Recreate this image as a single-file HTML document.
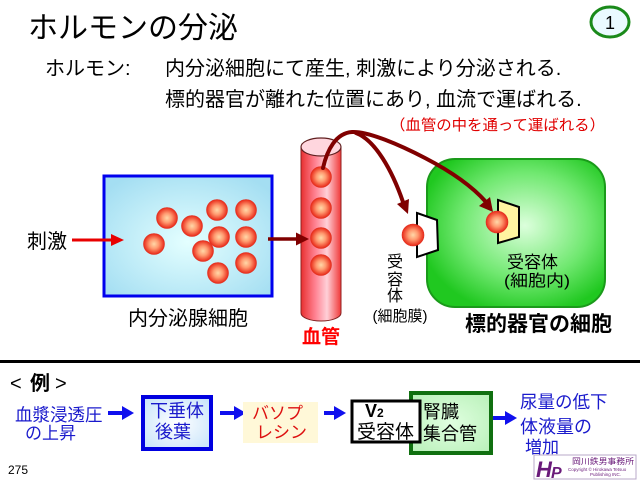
<!DOCTYPE html>
<html><head><meta charset="utf-8">
<style>
html,body{margin:0;padding:0;background:#fff;}
svg{display:block;}
text{font-family:"Liberation Sans","Noto Sans CJK JP",sans-serif;}
</style></head>
<body>
<svg width="640" height="480" viewBox="0 0 640 480" xmlns="http://www.w3.org/2000/svg">
<defs>
  <radialGradient id="ball" cx="50%" cy="50%" r="50%">
    <stop offset="0" stop-color="#ffd8a8"/>
    <stop offset="0.45" stop-color="#ff9a70"/>
    <stop offset="1" stop-color="#e82818"/>
  </radialGradient>
  <radialGradient id="cyan" cx="50%" cy="55%" r="65%">
    <stop offset="0" stop-color="#e4ffff"/>
    <stop offset="1" stop-color="#a4def2"/>
  </radialGradient>
  <radialGradient id="green" cx="55%" cy="45%" r="60%">
    <stop offset="0" stop-color="#dcffdc"/>
    <stop offset="0.6" stop-color="#70e870"/>
    <stop offset="1" stop-color="#20c820"/>
  </radialGradient>
  <linearGradient id="vessel" x1="0" y1="0" x2="1" y2="0">
    <stop offset="0" stop-color="#e83030"/>
    <stop offset="0.35" stop-color="#ff8090"/>
    <stop offset="0.65" stop-color="#ffd0d8"/>
    <stop offset="1" stop-color="#f03838"/>
  </linearGradient>
  <radialGradient id="lblue" cx="50%" cy="50%" r="70%">
    <stop offset="0" stop-color="#ffffff"/>
    <stop offset="1" stop-color="#c4e2fa"/>
  </radialGradient>
  <radialGradient id="lgreen" cx="50%" cy="50%" r="70%">
    <stop offset="0" stop-color="#e0ffe0"/>
    <stop offset="1" stop-color="#b8f0b8"/>
  </radialGradient>
</defs>

<!-- Title -->
<text x="28" y="38" font-size="30" fill="#000">ホルモンの分泌</text>
<ellipse cx="610" cy="22" rx="19" ry="15" fill="#eafaff" stroke="#1a8a1a" stroke-width="3"/>
<text x="610" y="29" font-size="18" text-anchor="middle" fill="#000">1</text>

<text x="45" y="75" font-size="20" fill="#000">ホルモン:</text>
<text x="165" y="75" font-size="20" fill="#000">内分泌細胞にて産生, 刺激により分泌される.</text>
<text x="165" y="106" font-size="20" fill="#000">標的器官が離れた位置にあり, 血流で運ばれる.</text>
<text x="390" y="130" font-size="15" fill="#e00000" textLength="215" lengthAdjust="spacingAndGlyphs">（血管の中を通って運ばれる）</text>

<!-- endocrine cell box -->
<rect x="104" y="176" width="168" height="120" fill="url(#cyan)" stroke="#0000ee" stroke-width="3"/>

<!-- stimulus -->
<text x="27" y="248" font-size="20" fill="#000">刺激</text>
<line x1="72" y1="240" x2="114" y2="240" stroke="#e80000" stroke-width="3"/>
<polygon points="124,240 111,234 111,246" fill="#e80000"/>

<g fill="url(#ball)" stroke="#e03020" stroke-width="0.6">
  <circle cx="167" cy="218" r="10.5"/>
  <circle cx="192" cy="226" r="10.5"/>
  <circle cx="217" cy="210" r="10.5"/>
  <circle cx="246" cy="210" r="10.5"/>
  <circle cx="154" cy="244" r="10.5"/>
  <circle cx="219" cy="237" r="10.5"/>
  <circle cx="246" cy="237" r="10.5"/>
  <circle cx="203" cy="251" r="10.5"/>
  <circle cx="246" cy="263" r="10.5"/>
  <circle cx="218" cy="273" r="10.5"/>
</g>
<text x="188" y="325" font-size="20" text-anchor="middle" fill="#000">内分泌腺細胞</text>

<!-- arrow to vessel -->
<line x1="268" y1="239" x2="298" y2="239" stroke="#800000" stroke-width="3.5"/>

<!-- vessel -->
<ellipse cx="321" cy="313" rx="20" ry="8" fill="url(#vessel)" stroke="#802020" stroke-width="1"/>
<rect x="301" y="147" width="40" height="166" fill="url(#vessel)"/>
<line x1="301" y1="147" x2="301" y2="313" stroke="#902020" stroke-width="1"/>
<line x1="341" y1="147" x2="341" y2="313" stroke="#902020" stroke-width="1"/>
<ellipse cx="321" cy="147" rx="20" ry="9" fill="#ffd6de" stroke="#602020" stroke-width="1.2"/>
<polygon points="309,239 296,232.5 296,245.5" fill="#800000"/>
<g fill="url(#ball)" stroke="#e03020" stroke-width="0.6">
  <circle cx="321" cy="177" r="10.5"/>
  <circle cx="321" cy="208" r="10.5"/>
  <circle cx="321" cy="238" r="10.5"/>
  <circle cx="321" cy="265" r="10.5"/>
</g>
<text x="321" y="343" font-size="19" font-weight="bold" text-anchor="middle" fill="#ff0000">血管</text>

<!-- green target cell -->
<rect x="427" y="159" width="178" height="148" rx="28" ry="28" fill="url(#green)" stroke="#1a9a1a" stroke-width="2"/>

<!-- curved arrows -->
<path d="M323,168 C327,150 336,133 352,132 C368,131 400,145 425,158 C452,172 472,186 486,202" fill="none" stroke="#800000" stroke-width="4" stroke-linecap="round"/>
<path d="M356,133 C375,140 392,170 403,202" fill="none" stroke="#800000" stroke-width="4" stroke-linecap="round"/>
<polygon points="408,214 409,199 397,204" fill="#800000"/>
<polygon points="493,212 490,197 479,206" fill="#800000"/>

<!-- receptors -->
<polygon points="417,213 437,220 438,250 417,257" fill="#ffffff" stroke="#000" stroke-width="2"/>
<circle cx="413" cy="235" r="11" fill="url(#ball)" stroke="#e03020" stroke-width="0.6"/>
<polygon points="498,200 519,207 519,237 498,243" fill="#fff4a0" stroke="#000" stroke-width="2"/>
<circle cx="497" cy="222" r="11" fill="url(#ball)" stroke="#e03020" stroke-width="0.6"/>

<g font-size="16" fill="#000" text-anchor="middle">
  <text x="395" y="267">受</text>
  <text x="395" y="285">容</text>
  <text x="395" y="301">体</text>
</g>
<text x="400" y="321" font-size="15" text-anchor="middle" fill="#000">(細胞膜)</text>
<text x="507" y="268" font-size="17" fill="#000">受容体</text>
<text x="504" y="286" font-size="16" fill="#000" textLength="66" lengthAdjust="spacingAndGlyphs">(細胞内)</text>
<text x="465" y="331" font-size="21" font-weight="bold" fill="#000">標的器官の細胞</text>

<!-- separator -->
<rect x="0" y="360" width="640" height="3" fill="#000"/>

<!-- example -->
<text x="10" y="390" font-size="20" fill="#000">&lt;</text>
<text x="30" y="390" font-size="20" font-weight="bold" fill="#000">例</text>
<text x="55" y="390" font-size="20" fill="#000">&gt;</text>

<text x="15" y="421" font-size="17.5" fill="#1a1acc">血漿浸透圧</text>
<text x="25" y="439" font-size="17" fill="#1a1acc">の上昇</text>

<line x1="108" y1="413" x2="124" y2="413" stroke="#1010ee" stroke-width="4"/>
<polygon points="134,413 122,406 122,420" fill="#1010ee"/>

<rect x="143" y="397" width="68" height="52" fill="url(#lblue)" stroke="#0000e0" stroke-width="4"/>
<text x="150" y="417" font-size="18" fill="#1a1acc">下垂体</text>
<text x="155" y="438" font-size="18" fill="#1a1acc">後葉</text>

<line x1="220" y1="413" x2="236" y2="413" stroke="#1010ee" stroke-width="4"/>
<polygon points="246,413 234,406 234,420" fill="#1010ee"/>

<rect x="243" y="402" width="75" height="41" fill="#fff8d8"/>
<text x="252" y="419" font-size="17" fill="#dd1010">バソプ</text>
<text x="256" y="438" font-size="17" fill="#dd1010">レシン</text>

<line x1="324" y1="413" x2="336" y2="413" stroke="#1010ee" stroke-width="4"/>
<polygon points="346,413 334,406 334,420" fill="#1010ee"/>

<rect x="411" y="393" width="80" height="60" fill="url(#lgreen)" stroke="#107010" stroke-width="4"/>
<rect x="352" y="401" width="68" height="41" fill="#ffffff" stroke="#000" stroke-width="3"/>
<text x="365" y="417" font-size="18" font-weight="bold" fill="#000">V<tspan font-size="12">2</tspan></text>
<text x="357" y="438" font-size="19" fill="#000">受容体</text>
<text x="423" y="418" font-size="18" fill="#000">腎臓</text>
<text x="423" y="440" font-size="18" fill="#000">集合管</text>

<line x1="493" y1="418" x2="507" y2="418" stroke="#1010ee" stroke-width="4"/>
<polygon points="517,418 505,411 505,425" fill="#1010ee"/>

<text x="520" y="408" font-size="17.5" fill="#1a1acc">尿量の低下</text>
<text x="520" y="433" font-size="18" fill="#1a1acc">体液量の</text>
<text x="525" y="453" font-size="17" fill="#1a1acc">増加</text>

<text x="8" y="474" font-size="12" fill="#000">275</text>

<!-- logo -->
<rect x="534" y="455" width="102" height="24" fill="#ffffff" stroke="#b8a8c8" stroke-width="1"/>
<text x="536" y="477" font-size="22" font-weight="bold" font-style="italic" fill="#6a1a7a">H</text>
<text x="551" y="478" font-size="16" font-weight="bold" font-style="italic" fill="#6a1a7a">P</text>
<text x="572" y="464" font-size="8" fill="#6a1a7a" textLength="62" lengthAdjust="spacingAndGlyphs">岡川鉄男事務所</text>
<text x="568" y="471" font-size="4.5" fill="#6a1a7a">Copyright © Hirokawa Tetsuo</text>
<text x="590" y="476" font-size="4.5" fill="#6a1a7a">Publishing INC.</text>
</svg>
</body></html>
